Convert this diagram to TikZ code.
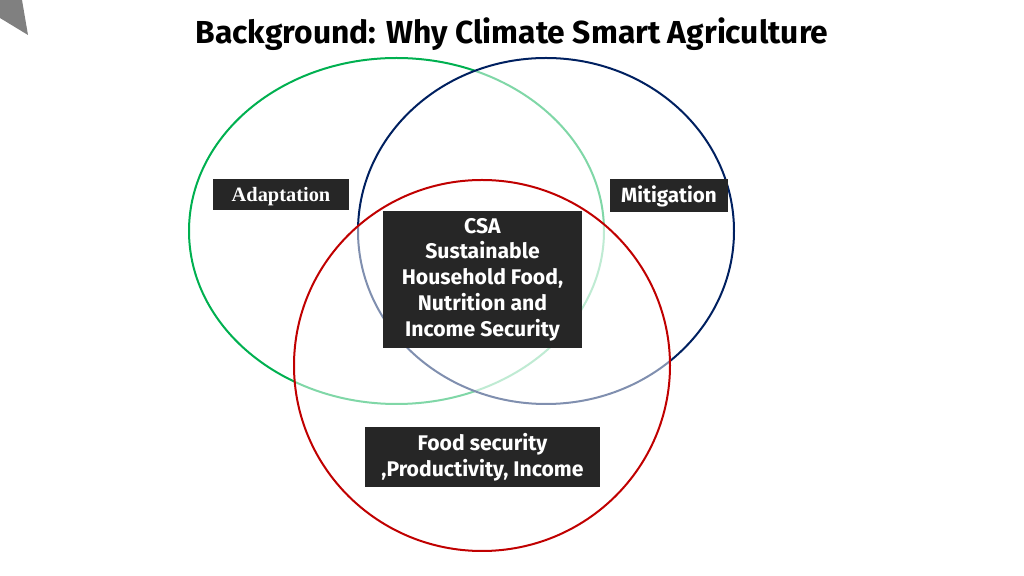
\documentclass[tikz,border=0pt]{standalone}
\usepackage{fontspec}
\setmainfont{Fira Sans}
\newfontfamily\titlefont{Fira Sans}
\newfontfamily\boxfont{Fira Sans}
\newfontfamily\serifbox{Liberation Serif}
\usepackage{tikz}
\usetikzlibrary{positioning, shapes.geometric}
\definecolor{cGreen}{HTML}{00B050}
\definecolor{cNavy}{HTML}{002060}
\definecolor{cRed}{HTML}{C00000}
\definecolor{cBox}{HTML}{262626}
\definecolor{cCorner}{HTML}{808080}

\begin{document}
\begin{tikzpicture}[
    x=0.5pt, y=-0.5pt,
    ring/.style={ellipse, draw, line width=1pt, fill=white, fill opacity=0.5, text opacity=1, inner sep=0pt},
    tag/.style={fill=cBox, text=white, inner sep=0pt, align=center},
    lab/.style={font=\boxfont\bfseries\fontsize{10.6}{12.85}\selectfont},
]

% ---------- Frame ----------
\useasboundingbox (0,0) rectangle (1024,576);
\fill[cCorner] (0,0) -- (22,0) -- (28,35) -- (0,18) -- cycle;

% ---------- Title ----------
\node[font=\titlefont\bfseries\fontsize{15.9}{18}\selectfont] (title) at (512,34) {Background: Why Climate Smart Agriculture};

% ---------- Circles ----------
\node[ring, draw=cGreen, minimum width=207.5pt, minimum height=173pt] (adapt) at (396.5,231) {};
\node[ring, draw=cNavy, minimum width=188pt, minimum height=173pt] (mitig) at (546,231) {};
\node[ring, draw=cRed, minimum width=188pt, minimum height=185.5pt] (food) at (482,365.5) {};

% ---------- Labels ----------
\node[tag, text depth=0pt, minimum width=68pt, minimum height=15.5pt, font=\serifbox\bfseries\fontsize{10.2}{12}\selectfont] (adaptlab) at (281,194.5) {Adaptation};
\node[tag, minimum width=59pt, minimum height=16.5pt, font=\boxfont\bfseries\fontsize{10.3}{12}\selectfont] (mitiglab) at (669,196) {Mitigation};
\node[tag, lab, minimum width=99.5pt, minimum height=68.5pt] (csa) at (482.5,279.5)
  {CSA\\Sustainable\\Household Food,\\Nutrition and\\Income Security};
\node[tag, lab, minimum width=117.5pt, minimum height=30pt] (foodlab) at (482.5,457)
  {Food security\\,Productivity, Income};

\end{tikzpicture}
\end{document}
